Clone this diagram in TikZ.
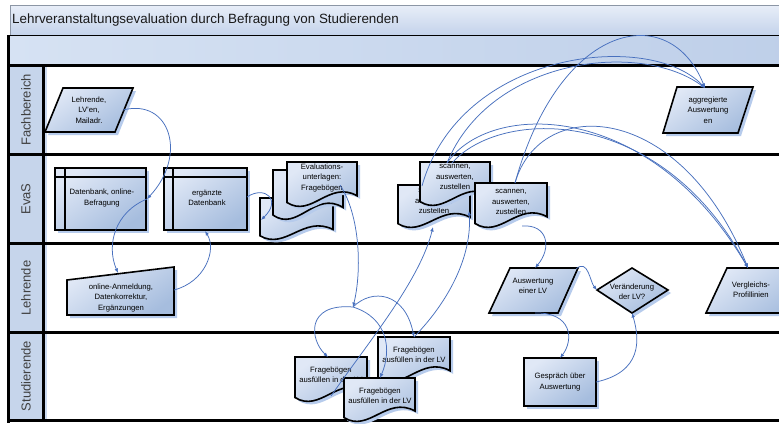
\documentclass[tikz,border=0pt]{standalone}
\usepackage{fontspec}
\setmainfont{Liberation Sans}
\usetikzlibrary{arrows.meta}
\definecolor{connc}{RGB}{72,112,190}
\definecolor{fillA}{RGB}{224,232,246}
\definecolor{fillB}{RGB}{166,189,222}
\definecolor{shadc}{RGB}{182,203,236}
\definecolor{lanefill}{RGB}{198,213,235}
\definecolor{titleA}{RGB}{232,238,248}
\definecolor{titleB}{RGB}{196,211,235}
\definecolor{hdrA}{RGB}{214,226,243}
\definecolor{hdrB}{RGB}{190,207,233}
\definecolor{titleborder}{RGB}{140,150,165}
\definecolor{labeltext}{RGB}{64,64,64}
\definecolor{titletext}{RGB}{25,25,25}
\tikzset{
  shapebox/.style={draw=black, line width=1.6pt, top color=fillA, bottom color=fillB, shading angle=35},
  shadowfill/.style={fill=shadc, shift={(3,3)}},
  txt/.style={font=\fontsize{7.7}{10.3}\selectfont, align=center, inner sep=0pt, text=black},
  lanelbl/.style={font=\fontsize{13}{15}\selectfont, text=labeltext, rotate=90, inner sep=0pt},
  laneline/.style={draw=black, line width=3pt},
  conn/.style={draw=connc, line width=0.75pt, -{Latex[length=4.5pt,width=3.6pt]}},
}
\newcommand\docpath[4]{(#1,#2) -- ({#1+#3},#2) -- ({#1+#3},{#2+0.75*#4}) .. controls ({#1+0.6*#3},{#2+0.4*#4}) and ({#1+0.35*#3},{#2+1.25*#4}) .. (#1,{#2+0.9*#4}) -- cycle}
\newcommand\drawdoc[4]{%
  \path[shadowfill] \docpath{#1}{#2}{#3}{#4};
  \path[shapebox] \docpath{#1}{#2}{#3}{#4};}
\begin{document}
\begin{tikzpicture}[x=1pt,y=-1pt]
\useasboundingbox (0,0) rectangle (779,423);
\clip (0,0) rectangle (779,423);
\fill[white] (0,0) rectangle (779,423);

% title bar
\path[top color=titleA, bottom color=titleB, draw=titleborder, line width=0.6pt] (10,5) rectangle (795,35);
\node[anchor=west, font=\fontsize{13.4}{15}\selectfont, text=titletext, inner sep=0pt] (title) at (12,20) {Lehrveranstaltungsevaluation durch Befragung von Studierenden};

% header bar
\path[left color=hdrA, right color=hdrB] (8,35) rectangle (795,65);
\draw[line width=0.9pt] (8,35) -- (795,35);

% lane label column
\fill[lanefill] (8,65) rectangle (43,420);
\fill[shadc!70] (43,65) rectangle (47,420);
\node[lanelbl] (lfach) at (26,110) {Fachbereich};
\node[lanelbl] (levas) at (26,199) {EvaS};
\node[lanelbl] (lleh) at (26,288) {Lehrende};
\node[lanelbl] (lstud) at (26,376) {Studierende};

% lane lines
\foreach \yy in {65,154,243,332,420} \draw[laneline] (8,\yy) -- (795,\yy);
\draw[laneline] (8,35) -- (8,423);
\draw[laneline] (43,65) -- (43,420);

% ---- Fachbereich
\path[shadowfill] (63,88) -- (133,88) -- (115,132) -- (45,132) -- cycle;
\path[shapebox] (63,88) -- (133,88) -- (115,132) -- (45,132) -- cycle;
\node[txt] (leh) at (89,110) {Lehrende,\\LV'en,\\Mailadr.};

\path[shadowfill] (677,87) -- (753,87) -- (738,133) -- (663,133) -- cycle;
\path[shapebox] (677,87) -- (753,87) -- (738,133) -- (663,133) -- cycle;
\node[txt] (agg) at (708,110) {aggregierte\\Auswertung\\en};

% ---- EvaS
\path[shadowfill] (55,168) rectangle (146,230);
\path[shapebox] (55,168) rectangle (146,230);
\draw[line width=1.6pt] (65,168) -- (65,230) (55,177) -- (146,177);
\node[txt] (db1) at (102,198) {Datenbank, online-\\Befragung};

\path[shadowfill] (164,168) rectangle (247,230);
\path[shapebox] (164,168) rectangle (247,230);
\draw[line width=1.6pt] (173,168) -- (173,230) (164,177) -- (247,177);
\node[txt] (db2) at (207,198) {ergänzte\\Datenbank};

\drawdoc{260}{198}{73}{42}
\drawdoc{273}{170}{70}{50}
\drawdoc{287}{162}{70}{45}
\node[txt] (eval) at (322,178) {Evaluations-\\unterlagen:\\Fragebögen};

\drawdoc{398}{185}{72}{43}
\node[txt] (scA) at (434,201) {scannen,\\auswerten,\\zustellen};
\drawdoc{420}{162}{70}{44}
\node[txt] (scB) at (455,177) {scannen,\\auswerten,\\zustellen};
\drawdoc{475}{183}{72}{45}
\node[txt] (scC) at (511,202) {scannen,\\auswerten,\\zustellen};

% ---- Lehrende
\path[shadowfill] (67,280) -- (174,267) -- (174,315) -- (67,315) -- cycle;
\path[shapebox] (67,280) -- (174,267) -- (174,315) -- (67,315) -- cycle;
\node[txt] (onl) at (121,298) {online-Anmeldung,\\Datenkorrektur,\\Ergänzungen};

\path[shadowfill] (510,268) -- (578,268) -- (558,313) -- (489,313) -- cycle;
\path[shapebox] (510,268) -- (578,268) -- (558,313) -- (489,313) -- cycle;
\node[txt] (ausw) at (533,286) {Auswertung\\einer LV};

\path[shadowfill] (597,290) -- (632,268) -- (668,290) -- (632,313) -- cycle;
\path[shapebox] (597,290) -- (632,268) -- (668,290) -- (632,313) -- cycle;
\node[txt] (ver) at (632,292) {Veränderung\\der LV?};

\path[shadowfill] (727,268) -- (805,268) -- (785,313) -- (706,313) -- cycle;
\path[shapebox] (727,268) -- (805,268) -- (785,313) -- (706,313) -- cycle;
\node[txt] (vgl) at (751,290) {Vergleichs-\\Profillinien};

% ---- Studierende
\drawdoc{295}{357}{72}{45}
\node[txt] (d1) at (331,375) {Fragebögen\\ausfüllen in der LV};
\drawdoc{378}{337}{72}{45}
\node[txt] (d2) at (414,355) {Fragebögen\\ausfüllen in der LV};
\drawdoc{344}{378}{71}{44}
\node[txt] (d3) at (380,396) {Fragebögen\\ausfüllen in der LV};

\path[fill=shadc] (527,361) rectangle (599,409);
\path[draw=black, line width=2.8pt, top color=fillA, bottom color=fillB, shading angle=35] (524,358) rectangle (596,406);
\node[txt] (gesp) at (560,382) {Gespräch über\\Auswertung};

% ---- connector end points
\coordinate (lehR) at (123,110);
\coordinate (db1R) at (147,199);
\coordinate (onlT) at (118,273);
\coordinate (onlR) at (174,290);
\coordinate (db2B) at (205,231);
\coordinate (db2R) at (247,197);
\coordinate (evalL) at (261,220);
\coordinate (evalIn) at (340,185);
\coordinate (junc) at (353,307);
\coordinate (d1T) at (328,357);
\coordinate (d2T) at (414,337);
\coordinate (d3T) at (380,378);
\coordinate (d1In) at (331,396);
\coordinate (scAB) at (433,227);
\coordinate (scBB) at (469,211);
\coordinate (scAT) at (422,186);
\coordinate (scBT1) at (447,163);
\coordinate (scBT2) at (452,163);
\coordinate (scCT) at (515,183);
\coordinate (scCB) at (522,226);
\coordinate (aggT) at (705,88);
\coordinate (vglT) at (748,268);
\coordinate (auswT) at (535,268);
\coordinate (auswR) at (576,269);
\coordinate (auswB) at (535,313);
\coordinate (verL) at (597,290);
\coordinate (verB) at (632,313);
\coordinate (gespT) at (560,358);
\coordinate (gespR) at (596,382);

% ---- connectors
\draw[conn] (lehR) .. controls (170,98) and (188,155) .. (db1R);
\draw[conn] (db1R) .. controls (115,212) and (106,245) .. (onlT);
\draw[conn] (onlR) .. controls (205,282) and (217,250) .. (db2B);
\draw[conn] (db2R) .. controls (265,185) and (282,200) .. (evalL);
\draw[conn] (evalIn) .. controls (360,215) and (362,270) .. (junc);
\draw[conn] (junc) .. controls (305,303) and (310,340) .. (d1T);
\draw[conn] (junc) .. controls (388,318) and (392,350) .. (d3T);
\draw[conn] (junc) .. controls (372,288) and (405,292) .. (d2T);
\draw[conn] (d1In) .. controls (370,340) and (420,280) .. (scAB);
\draw[conn] (d2T) .. controls (450,300) and (472,255) .. (scBB);
\draw[conn] (scCB) .. controls (548,224) and (552,248) .. (auswT);
\draw[conn] (auswR) .. controls (588,258) and (590,282) .. (verL);
\draw[conn] (auswB) .. controls (572,312) and (574,340) .. (gespT);
\draw[conn] (gespR) .. controls (642,372) and (640,340) .. (verB);
% arcs to aggregierte Auswertungen
\draw[conn] (scAT) .. controls (460,50) and (650,30) .. (aggT);
\draw[conn] (scBT1) .. controls (490,58) and (640,40) .. (aggT);
\draw[conn] (scCT) .. controls (560,20) and (670,0) .. (aggT);
% arcs to Vergleichs-Profillinien
\draw[conn] (scBT1) .. controls (490,100) and (650,100) .. (vglT);
\draw[conn] (scBT2) .. controls (500,108) and (660,104) .. (vglT);
\draw[conn] (scCT) .. controls (540,95) and (680,100) .. (vglT);
\end{tikzpicture}
\end{document}
